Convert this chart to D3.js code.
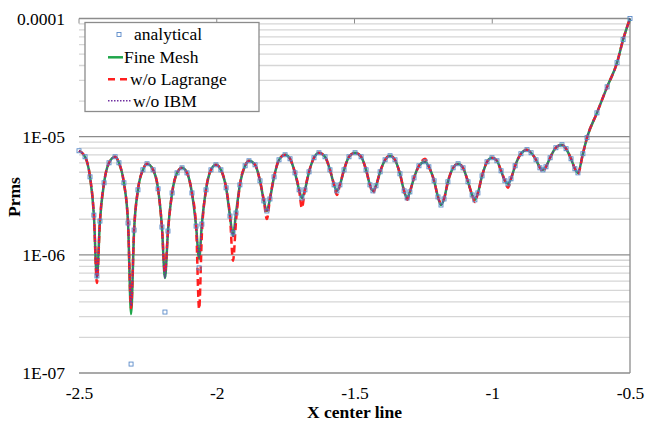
<!DOCTYPE html>
<html>
<head>
<meta charset="utf-8">
<script src="https://cdn.jsdelivr.net/npm/d3@7"></script>
<style>
  body { margin: 0; background: #fff; }
  text { font-family: "Liberation Serif", "Times New Roman", serif; }
</style>
</head>
<body>
<div id="okvir"></div>
<script>

// podaci ocitani sa slike (x centralna linija, Prms)
const xVrijednosti = [
  -2.500, -2.478, -2.460, -2.446, -2.435, -2.424, -2.409, -2.391, -2.369,
  -2.355, -2.337, -2.322, -2.311, -2.300, -2.286, -2.268, -2.253,
  -2.231, -2.213, -2.199, -2.188, -2.177, -2.162, -2.144, -2.126,
  -2.108, -2.090, -2.075, -2.064, -2.054, -2.039, -2.021, -2.003,
  -1.985, -1.966, -1.952, -1.941, -1.930, -1.916, -1.897, -1.883,
  -1.861, -1.843, -1.829, -1.818, -1.807, -1.792, -1.774, -1.752,
  -1.734, -1.716, -1.701, -1.691, -1.680, -1.665, -1.647, -1.629,
  -1.607, -1.589, -1.574, -1.564, -1.553, -1.538, -1.520, -1.498,
  -1.476, -1.458, -1.444, -1.433, -1.422, -1.407, -1.389, -1.371,
  -1.353, -1.335, -1.320, -1.309, -1.299, -1.284, -1.266, -1.244,
  -1.230, -1.211, -1.197, -1.186, -1.175, -1.161, -1.142, -1.124,
  -1.106, -1.088, -1.073, -1.063, -1.052, -1.037, -1.019, -1.001,
  -0.983, -0.968, -0.954, -0.943, -0.932, -0.917, -0.896, -0.874,
  -0.859, -0.841, -0.827, -0.816, -0.805, -0.790, -0.769, -0.747,
  -0.732, -0.714, -0.700, -0.689, -0.671, -0.656, -0.620, -0.583,
  -0.547, -0.525, -0.500
]

const fineMesh = [
  7.60e-6, 6.76e-6, 4.57e-6, 2.17e-6, 6.37e-7, 1.93e-6, 4.07e-6, 6.01e-6, 6.76e-6,
  6.01e-6, 4.07e-6, 1.86e-6, 3.15e-7, 1.62e-6, 3.55e-6, 5.24e-6, 5.90e-6,
  5.24e-6, 3.62e-6, 1.72e-6, 6.37e-7, 1.59e-6, 3.34e-6, 4.94e-6, 5.45e-6,
  4.94e-6, 3.34e-6, 1.75e-6, 9.25e-7, 1.82e-6, 3.55e-6, 5.24e-6, 5.78e-6,
  5.24e-6, 3.69e-6, 2.13e-6, 1.44e-6, 2.26e-6, 3.91e-6, 5.67e-6, 6.25e-6,
  5.78e-6, 4.23e-6, 2.86e-6, 2.35e-6, 2.97e-6, 4.57e-6, 6.37e-6, 7.03e-6,
  6.50e-6, 4.94e-6, 3.55e-6, 3.03e-6, 3.55e-6, 5.04e-6, 6.63e-6, 7.31e-6,
  6.76e-6, 5.24e-6, 3.91e-6, 3.48e-6, 3.91e-6, 5.24e-6, 6.76e-6, 7.31e-6,
  6.76e-6, 5.24e-6, 3.91e-6, 3.48e-6, 3.84e-6, 5.04e-6, 6.37e-6, 6.90e-6,
  6.37e-6, 4.85e-6, 3.48e-6, 3.03e-6, 3.41e-6, 4.48e-6, 5.67e-6, 6.13e-6,
  5.56e-6, 4.23e-6, 3.09e-6, 2.64e-6, 2.97e-6, 4.15e-6, 5.45e-6, 5.90e-6,
  5.45e-6, 4.15e-6, 3.21e-6, 2.92e-6, 3.34e-6, 4.66e-6, 6.13e-6, 6.63e-6,
  6.25e-6, 5.14e-6, 4.23e-6, 3.99e-6, 4.40e-6, 5.67e-6, 7.17e-6, 7.76e-6,
  7.31e-6, 6.37e-6, 5.45e-6, 5.24e-6, 5.56e-6, 6.63e-6, 8.06e-6, 8.55e-6,
  7.91e-6, 6.50e-6, 5.35e-6, 4.94e-6, 7.17e-6, 9.81e-6, 1.59e-5, 2.64e-5,
  4.23e-5, 6.63e-5, 1.00e-4
]

const bezLagrange = [
  7.60e-6, 6.76e-6, 4.57e-6, 2.17e-6, 5.78e-7, 1.93e-6, 4.07e-6, 6.01e-6, 6.76e-6,
  6.01e-6, 4.07e-6, 1.86e-6, 3.55e-7, 1.62e-6, 3.55e-6, 5.24e-6, 5.90e-6,
  5.24e-6, 3.62e-6, 1.72e-6, 7.03e-7, 1.59e-6, 3.34e-6, 4.94e-6, 5.45e-6,
  4.94e-6, 3.34e-6, 1.75e-6, 3.48e-7, 1.50e-6, 3.55e-6, 5.24e-6, 5.78e-6,
  5.24e-6, 3.69e-6, 2.13e-6, 8.89e-7, 1.93e-6, 3.91e-6, 5.67e-6, 6.25e-6,
  5.78e-6, 4.23e-6, 2.86e-6, 2.01e-6, 2.97e-6, 4.57e-6, 6.37e-6, 7.03e-6,
  6.50e-6, 4.94e-6, 3.55e-6, 2.49e-6, 3.55e-6, 5.04e-6, 6.63e-6, 7.31e-6,
  6.76e-6, 5.24e-6, 3.91e-6, 3.21e-6, 3.91e-6, 5.24e-6, 6.76e-6, 7.31e-6,
  6.76e-6, 5.24e-6, 3.91e-6, 3.34e-6, 3.84e-6, 5.04e-6, 6.37e-6, 6.90e-6,
  6.37e-6, 4.85e-6, 3.48e-6, 2.92e-6, 3.41e-6, 4.48e-6, 5.67e-6, 6.50e-6,
  5.56e-6, 4.23e-6, 3.09e-6, 2.75e-6, 2.97e-6, 4.15e-6, 5.45e-6, 5.90e-6,
  5.45e-6, 4.15e-6, 3.21e-6, 2.80e-6, 3.34e-6, 4.66e-6, 6.13e-6, 6.63e-6,
  6.25e-6, 5.14e-6, 4.23e-6, 3.69e-6, 4.40e-6, 5.67e-6, 7.17e-6, 7.76e-6,
  7.31e-6, 6.37e-6, 5.45e-6, 5.04e-6, 5.56e-6, 6.63e-6, 8.06e-6, 8.55e-6,
  7.91e-6, 6.50e-6, 5.35e-6, 4.85e-6, 7.17e-6, 9.81e-6, 1.59e-5, 2.64e-5,
  4.23e-5, 6.63e-5, 1.00e-4
]

const bezIBM = [
  7.60e-6, 6.76e-6, 4.57e-6, 2.17e-6, 6.37e-7, 1.93e-6, 4.07e-6, 6.01e-6, 6.76e-6,
  6.01e-6, 4.07e-6, 1.86e-6, 3.69e-7, 1.62e-6, 3.55e-6, 5.24e-6, 5.90e-6,
  5.24e-6, 3.62e-6, 1.72e-6, 6.37e-7, 1.59e-6, 3.34e-6, 4.94e-6, 5.45e-6,
  4.94e-6, 3.34e-6, 1.75e-6, 9.50e-7, 1.82e-6, 3.55e-6, 5.24e-6, 5.78e-6,
  5.24e-6, 3.69e-6, 2.13e-6, 1.44e-6, 2.26e-6, 3.91e-6, 5.67e-6, 6.25e-6,
  5.78e-6, 4.23e-6, 2.86e-6, 2.35e-6, 2.97e-6, 4.57e-6, 6.37e-6, 7.03e-6,
  6.50e-6, 4.94e-6, 3.55e-6, 3.03e-6, 3.55e-6, 5.04e-6, 6.63e-6, 7.31e-6,
  6.76e-6, 5.24e-6, 3.91e-6, 3.48e-6, 3.91e-6, 5.24e-6, 6.76e-6, 7.31e-6,
  6.76e-6, 5.24e-6, 3.91e-6, 3.48e-6, 3.84e-6, 5.04e-6, 6.37e-6, 6.90e-6,
  6.37e-6, 4.85e-6, 3.48e-6, 3.03e-6, 3.41e-6, 4.48e-6, 5.67e-6, 6.13e-6,
  5.56e-6, 4.23e-6, 3.09e-6, 2.64e-6, 2.97e-6, 4.15e-6, 5.45e-6, 5.90e-6,
  5.45e-6, 4.15e-6, 3.21e-6, 3.03e-6, 3.34e-6, 4.66e-6, 6.13e-6, 6.63e-6,
  6.25e-6, 5.14e-6, 4.23e-6, 3.99e-6, 4.40e-6, 5.67e-6, 7.17e-6, 7.76e-6,
  7.31e-6, 6.37e-6, 5.45e-6, 5.24e-6, 5.56e-6, 6.63e-6, 8.06e-6, 8.55e-6,
  7.91e-6, 6.50e-6, 5.35e-6, 5.00e-6, 7.17e-6, 9.81e-6, 1.59e-5, 2.64e-5,
  4.23e-5, 6.63e-5, 1.00e-4
]

const analiticko = [
  7.60e-6, 6.76e-6, 4.57e-6, 2.17e-6, 6.63e-7, 1.93e-6, 4.07e-6, 6.01e-6, 6.76e-6,
  6.01e-6, 4.07e-6, 1.86e-6, 1.19e-7, 1.62e-6, 3.55e-6, 5.24e-6, 5.90e-6,
  5.24e-6, 3.62e-6, 1.72e-6, 3.28e-7, 1.59e-6, 3.34e-6, 4.94e-6, 5.45e-6,
  4.94e-6, 3.34e-6, 1.75e-6, 7.76e-7, 1.82e-6, 3.55e-6, 5.24e-6, 5.78e-6,
  5.24e-6, 3.69e-6, 2.13e-6, 1.53e-6, 2.26e-6, 3.91e-6, 5.67e-6, 6.25e-6,
  5.78e-6, 4.23e-6, 2.86e-6, 2.35e-6, 2.97e-6, 4.57e-6, 6.37e-6, 7.03e-6,
  6.50e-6, 4.94e-6, 3.55e-6, 3.03e-6, 3.55e-6, 5.04e-6, 6.63e-6, 7.31e-6,
  6.76e-6, 5.24e-6, 3.91e-6, 3.48e-6, 3.91e-6, 5.24e-6, 6.76e-6, 7.31e-6,
  6.76e-6, 5.24e-6, 3.91e-6, 3.48e-6, 3.84e-6, 5.04e-6, 6.37e-6, 6.90e-6,
  6.37e-6, 4.85e-6, 3.48e-6, 3.03e-6, 3.41e-6, 4.48e-6, 5.67e-6, 6.13e-6,
  5.56e-6, 4.23e-6, 3.09e-6, 2.64e-6, 2.97e-6, 4.15e-6, 5.45e-6, 5.90e-6,
  5.45e-6, 4.15e-6, 3.21e-6, 2.92e-6, 3.34e-6, 4.66e-6, 6.13e-6, 6.63e-6,
  6.25e-6, 5.14e-6, 4.23e-6, 3.99e-6, 4.40e-6, 5.67e-6, 7.17e-6, 7.76e-6,
  7.31e-6, 6.37e-6, 5.45e-6, 5.24e-6, 5.56e-6, 6.63e-6, 8.06e-6, 8.55e-6,
  7.91e-6, 6.50e-6, 5.35e-6, 4.94e-6, 7.17e-6, 9.81e-6, 1.59e-5, 2.64e-5,
  4.23e-5, 6.63e-5, 1.00e-4
]

const nazivi = ["analytical", "Fine Mesh", "w/o Lagrange", "w/o IBM"]

const xTickVrijednosti = [-2.5, -2, -1.5, -1, -0.5]
const xTickOznake = ["-2.5", "-2", "-1.5", "-1", "-0.5"]
const yTickVrijednosti = [1e-7, 1e-6, 1e-5, 1e-4]
const yTickOznake = ["1E-07", "1E-06", "1E-05", "0.0001"]


function crtajGraf() {

  // 1. Dimenzije grafa

  let dimenzije = {
    sirina: 647,
    visina: 425,
    margine: { top: 18.5, right: 17, bottom: 52, left: 79 },
  }
  dimenzije.grSirina = dimenzije.sirina - dimenzije.margine.left - dimenzije.margine.right
  dimenzije.grVisina = dimenzije.visina - dimenzije.margine.top - dimenzije.margine.bottom

  // 2. Canvas

  const okvir = d3.select("#okvir")
    .append("svg")
      .attr("width", dimenzije.sirina)
      .attr("height", dimenzije.visina)

  const granice = okvir.append("g")
      .attr("transform", `translate(${dimenzije.margine.left},${dimenzije.margine.top})`)

  // 3. Skale

  const xSkala = d3.scaleLinear()
    .domain([-2.5, -0.5])
    .range([0, dimenzije.grSirina])

  const ySkala = d3.scaleLog()
    .domain([1e-7, 1e-4])
    .range([dimenzije.grVisina, 0])

  // 4. Mreza

  const manjeLinije = []
  yTickVrijednosti.slice(0, 3).forEach(d => {
    for (let k = 2; k <= 9; k++) manjeLinije.push(d * k)
  })

  granice.append("g").selectAll("line")
    .data(manjeLinije)
    .join("line")
      .attr("x1", 0)
      .attr("x2", dimenzije.grSirina)
      .attr("y1", d => ySkala(d))
      .attr("y2", d => ySkala(d))
      .attr("stroke", "#d6d6d6")
      .attr("stroke-width", 1.3)

  granice.append("g").selectAll("line")
    .data(yTickVrijednosti)
    .join("line")
      .attr("x1", 0)
      .attr("x2", dimenzije.grSirina)
      .attr("y1", d => ySkala(d))
      .attr("y2", d => ySkala(d))
      .attr("stroke", "#8c8c8c")
      .attr("stroke-width", 1.3)

  granice.append("line")
      .attr("x1", dimenzije.grSirina)
      .attr("x2", dimenzije.grSirina)
      .attr("y1", 0)
      .attr("y2", dimenzije.grVisina)
      .attr("stroke", "#8c8c8c")
      .attr("stroke-width", 1.3)

  // gornje oznake
  granice.append("g").selectAll("line")
    .data(xTickVrijednosti)
    .join("line")
      .attr("x1", d => xSkala(d))
      .attr("x2", d => xSkala(d))
      .attr("y1", 0)
      .attr("y2", 5)
      .attr("stroke", "#8c8c8c")
      .attr("stroke-width", 1)

  // 5. Osi

  const yOsGenerator = d3.axisLeft(ySkala)
    .tickValues(yTickVrijednosti)
    .tickFormat((d, i) => yTickOznake[i])
    .tickSize(0)
    .tickPadding(14)

  const yOs = granice.append("g").call(yOsGenerator)
  yOs.select(".domain").remove()
  yOs.selectAll("text")
      .attr("font-family", "Liberation Serif, Times New Roman, serif")
      .attr("font-size", 17.5)
      .attr("fill", "#000")

  const xOsGenerator = d3.axisBottom(xSkala)
    .tickValues(xTickVrijednosti)
    .tickFormat((d, i) => xTickOznake[i])
    .tickSize(0)
    .tickPadding(13.5)

  const xOs = granice.append("g")
      .attr("transform", `translate(0,${dimenzije.grVisina})`)
    .call(xOsGenerator)
  xOs.select(".domain").remove()
  xOs.selectAll("text")
      .attr("font-family", "Liberation Serif, Times New Roman, serif")
      .attr("font-size", 17.5)
      .attr("fill", "#000")

  okvir.append("text")
      .attr("transform", `translate(20,197) rotate(-90)`)
      .attr("text-anchor", "middle")
      .attr("font-weight", "bold")
      .attr("font-size", 17.5)
      .text("Prms")

  okvir.append("text")
      .attr("x", dimenzije.margine.left + dimenzije.grSirina / 2)
      .attr("y", 418)
      .attr("text-anchor", "middle")
      .attr("font-weight", "bold")
      .attr("font-size", 17.5)
      .text("X center line")

  // 6. Podaci

  const generatorLinije = d3.line()
    .x((d, i) => xSkala(xVrijednosti[i]))
    .y(d => ySkala(d))
    .curve(d3.curveMonotoneX)

  granice.append("path")
      .attr("d", generatorLinije(fineMesh))
      .attr("fill", "none")
      .attr("stroke", "#1fa64a")
      .attr("stroke-width", 2.5)

  granice.append("path")
      .attr("d", generatorLinije(bezLagrange))
      .attr("fill", "none")
      .attr("stroke", "#ff1f1f")
      .attr("stroke-width", 2.5)
      .attr("stroke-dasharray", "7,4")

  granice.append("path")
      .attr("d", generatorLinije(bezIBM))
      .attr("fill", "none")
      .attr("stroke", "#7030a0")
      .attr("stroke-width", 1.6)
      .attr("stroke-dasharray", "1.5,1.5")

  granice.append("g").selectAll("rect")
    .data(analiticko)
    .join("rect")
      .attr("x", (d, i) => xSkala(xVrijednosti[i]) - 2)
      .attr("y", d => ySkala(d) - 2)
      .attr("width", 4)
      .attr("height", 4)
      .attr("fill", "none")
      .attr("stroke", "#5b8bc9")
      .attr("stroke-width", 0.9)

  // 7. Legenda

  const legenda = okvir.append("g")

  legenda.append("rect")
      .attr("x", 85)
      .attr("y", 22.5)
      .attr("width", 174)
      .attr("height", 89)
      .attr("fill", "#fff")
      .attr("stroke", "#8c8c8c")
      .attr("stroke-width", 1.3)

  legenda.append("rect")
      .attr("x", 117)
      .attr("y", 32.5)
      .attr("width", 4)
      .attr("height", 4)
      .attr("fill", "none")
      .attr("stroke", "#5b8bc9")
      .attr("stroke-width", 0.9)

  legenda.append("line")
      .attr("x1", 108).attr("x2", 123)
      .attr("y1", 57.3).attr("y2", 57.3)
      .attr("stroke", "#1fa64a")
      .attr("stroke-width", 2.5)

  legenda.append("line")
      .attr("x1", 108).attr("x2", 128)
      .attr("y1", 79.3).attr("y2", 79.3)
      .attr("stroke", "#ff1f1f")
      .attr("stroke-width", 2.5)
      .attr("stroke-dasharray", "7,5")

  legenda.append("line")
      .attr("x1", 108).attr("x2", 132)
      .attr("y1", 100.7).attr("y2", 100.7)
      .attr("stroke", "#7030a0")
      .attr("stroke-width", 1.6)
      .attr("stroke-dasharray", "1.5,1.5")

  const tekstPozicije = [[134, 40], [124, 63], [130, 85], [133, 106.5]]
  legenda.selectAll("text.stavka")
    .data(nazivi)
    .join("text")
      .attr("class", "stavka")
      .attr("x", (d, i) => tekstPozicije[i][0])
      .attr("y", (d, i) => tekstPozicije[i][1])
      .attr("font-size", 17.5)
      .text(d => d)
}
crtajGraf()
</script>
</body>
</html>
